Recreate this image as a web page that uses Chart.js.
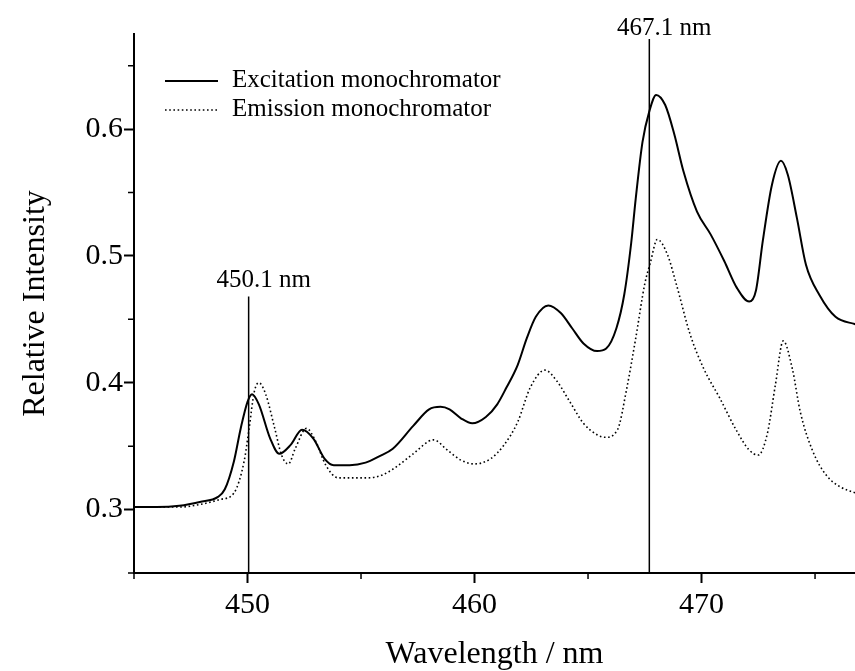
<!DOCTYPE html>
<html>
<head>
<meta charset="utf-8">
<script src="https://cdn.jsdelivr.net/npm/chart.js@4.4.1/dist/chart.umd.min.js"></script>
<style>
  body { margin: 0; background: #fff; }
  canvas { display: block; }
</style>
</head>
<body>
<canvas id="spectrum" width="855" height="671"></canvas>
<script>
// wavelength (nm) and relative intensity
const excWavelength = [445.0, 446.0, 447.0, 447.9, 448.7, 449.0, 449.4, 449.7, 450.0, 450.2, 450.5, 451.0, 451.4, 451.9, 452.4, 452.9, 453.4, 453.8, 454.5, 455.2, 455.8, 456.4, 457.3, 458.0, 458.5, 458.9, 459.4, 459.9, 460.5, 461.0, 461.4, 461.9, 462.3, 462.7, 463.25, 463.8, 464.3, 464.8, 465.4, 465.8, 466.25, 466.6, 466.9, 467.1, 467.4, 467.7, 468.0, 468.4, 468.8, 469.2, 469.8, 470.4, 471.0, 471.55, 472.1, 472.4, 472.7, 473.1, 473.5, 473.8, 474.2, 474.6, 475.2, 475.9, 476.8];
const excIntensity = [0.302, 0.302, 0.303, 0.306, 0.310, 0.316, 0.338, 0.364, 0.385, 0.391, 0.383, 0.356, 0.344, 0.351, 0.363, 0.356, 0.340, 0.335, 0.335, 0.337, 0.342, 0.348, 0.366, 0.379, 0.381, 0.379, 0.372, 0.368, 0.373, 0.383, 0.396, 0.414, 0.435, 0.452, 0.461, 0.455, 0.443, 0.431, 0.425, 0.427, 0.443, 0.470, 0.510, 0.545, 0.590, 0.614, 0.627, 0.619, 0.596, 0.567, 0.535, 0.517, 0.496, 0.475, 0.464, 0.473, 0.512, 0.556, 0.575, 0.564, 0.530, 0.493, 0.469, 0.452, 0.446];

const emiWavelength = [445.0, 446.0, 447.0, 447.9, 448.8, 449.4, 449.85, 450.07, 450.3, 450.5, 450.8, 451.2, 451.5, 451.8, 452.1, 452.6, 453.0, 453.45, 454.0, 455.3, 455.9, 456.5, 457.3, 458.2, 458.8, 459.4, 460.0, 460.7, 461.3, 461.9, 462.45, 463.1, 463.6, 464.2, 464.8, 465.4, 465.75, 466.3, 466.7, 467.1, 467.5, 467.75, 468.05, 468.5, 468.9, 469.5, 470.1, 470.8, 471.55, 472.1, 472.5, 472.9, 473.25, 473.6, 474.0, 474.35, 474.9, 475.5, 476.1, 476.8];
const emiIntensity = [0.302, 0.302, 0.302, 0.304, 0.308, 0.313, 0.338, 0.364, 0.393, 0.400, 0.391, 0.364, 0.343, 0.336, 0.348, 0.364, 0.354, 0.335, 0.325, 0.325, 0.327, 0.333, 0.344, 0.355, 0.347, 0.339, 0.336, 0.340, 0.351, 0.369, 0.396, 0.410, 0.402, 0.385, 0.368, 0.359, 0.357, 0.363, 0.395, 0.435, 0.478, 0.495, 0.513, 0.501, 0.477, 0.438, 0.411, 0.388, 0.362, 0.347, 0.343, 0.360, 0.398, 0.433, 0.411, 0.377, 0.346, 0.327, 0.318, 0.313];

const seriesLabels = ['Excitation monochromator', 'Emission monochromator'];

const xMajorTicks = [450, 460, 470];
const xMinorTicks = [445, 455, 465, 475];
const yMajorTicks = [0.3, 0.4, 0.5, 0.6];
const yMinorTicks = [0.25, 0.35, 0.45, 0.55, 0.65];

// vertical reference lines
const markerWavelengths = [450.05, 467.7];
const markerTops = [0.468, 0.671];
const markerLabels = ['450.1 nm', '467.1 nm'];

const serif = '"Liberation Serif", "Times New Roman", serif';

function toPoints(xs, ys) {
    return xs.map((x, i) => ({ x: x, y: ys[i] }));
}

// short tick marks between the labelled ones
const minorTicks = {
    id: 'minorTicks',
    afterDraw(chart) {
        let ctx = chart.ctx;
        let xs = chart.scales.x;
        let ys = chart.scales.y;
        let area = chart.chartArea;
        ctx.save();
        ctx.strokeStyle = '#000';
        ctx.lineWidth = 1.5;
        ctx.beginPath();
        yMinorTicks.forEach(v => {
            let py = ys.getPixelForValue(v);
            ctx.moveTo(area.left - 6, py);
            ctx.lineTo(area.left, py);
        });
        xMinorTicks.forEach(v => {
            let px = xs.getPixelForValue(v);
            ctx.moveTo(px, area.bottom);
            ctx.lineTo(px, area.bottom + 6);
        });
        ctx.stroke();
        ctx.restore();
    }
};

const markers = {
    id: 'markers',
    afterDatasetsDraw(chart) {
        let ctx = chart.ctx;
        let xs = chart.scales.x;
        let ys = chart.scales.y;
        ctx.save();
        ctx.strokeStyle = '#000';
        ctx.lineWidth = 1.5;
        ctx.fillStyle = '#000';
        ctx.font = '25px ' + serif;
        ctx.textAlign = 'center';
        ctx.textBaseline = 'alphabetic';
        markerWavelengths.forEach((w, i) => {
            let px = xs.getPixelForValue(w);
            let top = ys.getPixelForValue(markerTops[i]);
            ctx.beginPath();
            ctx.moveTo(px, chart.chartArea.bottom);
            ctx.lineTo(px, top);
            ctx.stroke();
            ctx.fillText(markerLabels[i], px + 15, top - (i === 0 ? 10 : 4));
        });
        ctx.restore();
    }
};

const insetLegend = {
    id: 'insetLegend',
    afterDraw(chart) {
        let ctx = chart.ctx;
        chart.data.datasets.forEach((ds, i) => {
            let y = 81 + i * 29;
            ctx.save();
            ctx.strokeStyle = ds.borderColor;
            ctx.lineWidth = ds.borderWidth;
            ctx.setLineDash(ds.borderDash || []);
            ctx.beginPath();
            ctx.moveTo(165, y);
            ctx.lineTo(218, y);
            ctx.stroke();
            ctx.setLineDash([]);
            ctx.fillStyle = '#000';
            ctx.font = '25px ' + serif;
            ctx.textBaseline = 'alphabetic';
            ctx.fillText(ds.label, 232, y + 6);
            ctx.restore();
        });
    }
};

let ctx = document.getElementById('spectrum').getContext('2d');
new Chart(ctx, {
    type: 'line',
    data: {
        datasets: [{
            label: seriesLabels[0],
            data: toPoints(excWavelength, excIntensity),
            borderColor: '#000',
            borderWidth: 2,
            pointRadius: 0,
            cubicInterpolationMode: 'monotone'
        }, {
            label: seriesLabels[1],
            data: toPoints(emiWavelength, emiIntensity),
            borderColor: '#000',
            borderWidth: 1.6,
            borderDash: [1.6, 2.6],
            pointRadius: 0,
            cubicInterpolationMode: 'monotone'
        }]
    },
    options: {
        responsive: false,
        animation: false,
        devicePixelRatio: 1,
        layout: { padding: { top: 34, right: 0, left: 0, bottom: 0 } },
        plugins: {
            legend: { display: false },
            tooltip: { enabled: false }
        },
        scales: {
            x: {
                type: 'linear',
                min: 445,
                max: 476.76,
                afterBuildTicks: s => { s.ticks = xMajorTicks.map(v => ({ value: v })); },
                afterFit: s => { s.height = 98; },
                border: { display: true, color: '#000', width: 2 },
                grid: { drawOnChartArea: false, drawTicks: true, tickLength: 10, tickWidth: 2, tickColor: '#000' },
                ticks: {
                    color: '#000',
                    padding: 4,
                    font: { family: serif, size: 30 },
                    callback: v => String(v)
                },
                title: {
                    display: true,
                    text: 'Wavelength / nm',
                    color: '#000',
                    font: { family: serif, size: 32, lineHeight: 1 },
                    padding: { top: 0, bottom: 0 }
                }
            },
            y: {
                min: 0.25,
                max: 0.675,
                afterBuildTicks: s => { s.ticks = yMajorTicks.map(v => ({ value: v })); },
                afterFit: s => { s.width = 134; },
                border: { display: true, color: '#000', width: 2 },
                grid: { drawOnChartArea: false, drawTicks: true, tickLength: 10, tickWidth: 2, tickColor: '#000' },
                ticks: {
                    color: '#000',
                    padding: 1,
                    font: { family: serif, size: 30 },
                    callback: v => v.toFixed(1)
                },
                title: {
                    display: true,
                    text: 'Relative Intensity',
                    color: '#000',
                    font: { family: serif, size: 32, lineHeight: 1 },
                    padding: { top: 20, bottom: 0 }
                }
            }
        }
    },
    plugins: [minorTicks, markers, insetLegend]
});
</script>
</body>
</html>
